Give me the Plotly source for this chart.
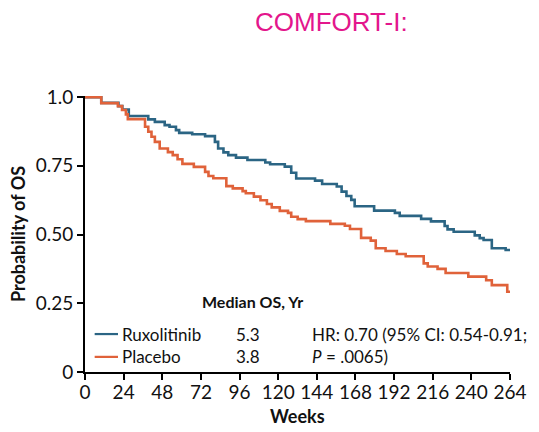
import plotly.graph_objects as go

# Kaplan-Meier step curves for overall survival (weeks vs probability)
rux_weeks = [0, 10.1, 20.8, 23.2, 27.2, 39.3, 43.4, 49.5, 52.5, 56.5, 58.5, 66.6, 74.6,
             80.7, 82.7, 86.0, 89.0, 93.8, 100.9, 112.0, 115.0, 124.1, 128.1, 131.2,
             142.9, 147.3, 156.4, 159.4, 162.4, 165.4, 167.5, 179.6, 192.5, 195.5,
             208.8, 214.9, 223.4, 225.2, 229.0, 242.1, 245.2, 247.6, 252.7, 261.3, 264]
rux_surv = [1.0, 0.979, 0.967, 0.955, 0.931, 0.919, 0.910, 0.898, 0.892, 0.880, 0.870,
            0.865, 0.858, 0.837, 0.813, 0.799, 0.789, 0.780, 0.771, 0.762, 0.756, 0.747,
            0.725, 0.704, 0.696, 0.684, 0.675, 0.656, 0.640, 0.626, 0.603, 0.587, 0.579,
            0.568, 0.557, 0.548, 0.531, 0.519, 0.510, 0.497, 0.487, 0.480, 0.450, 0.444,
            0.444]

pbo_weeks = [0, 10.1, 20.4, 23.0, 25.4, 26.6, 37.3, 39.3, 41.3, 43.4, 46.4, 51.5, 54.5,
             57.5, 60.5, 67.6, 74.6, 76.7, 79.7, 87.8, 91.8, 97.9, 99.9, 104.9, 109.0,
             113.0, 116.0, 121.0, 126.1, 128.1, 132.1, 137.2, 152.4, 161.4, 164.6, 171.5,
             177.5, 180.6, 186.7, 193.7, 199.2, 210.4, 212.9, 219.0, 224.0, 238.1, 249.2,
             252.7, 262.3, 264]
pbo_surv = [1.0, 0.978, 0.967, 0.953, 0.937, 0.920, 0.892, 0.874, 0.856, 0.837, 0.813,
            0.800, 0.789, 0.774, 0.757, 0.746, 0.728, 0.713, 0.705, 0.676, 0.668, 0.658,
            0.650, 0.638, 0.625, 0.611, 0.599, 0.586, 0.579, 0.565, 0.556, 0.549, 0.539,
            0.532, 0.520, 0.488, 0.478, 0.450, 0.440, 0.429, 0.421, 0.395, 0.384, 0.375,
            0.360, 0.347, 0.334, 0.316, 0.292, 0.292]

arm_names = ["Ruxolitinib", "Placebo"]
median_os = ["5.3", "3.8"]
x_ticks = list(range(0, 265, 24))
y_ticks = [0, 0.25, 0.5, 0.75, 1.0]
y_tick_text = ["0", "0.25", "0.50", "0.75", "1.0"]

BLUE = "#2b6584"
ORANGE = "#e0623a"
FONT = "Lato, Carlito, 'Liberation Sans', sans-serif"

fig = go.Figure()
fig.add_trace(go.Scatter(x=rux_weeks, y=rux_surv, mode="lines", line_shape="hv",
                         line=dict(color=BLUE, width=2.6), showlegend=False))
fig.add_trace(go.Scatter(x=pbo_weeks, y=pbo_surv, mode="lines", line_shape="hv",
                         line=dict(color=ORANGE, width=2.6), showlegend=False))

# in-plot key: short line samples with arm names and medians
key_rows = [0.138, 0.055]
for name, med, row, col in zip(arm_names, median_os, key_rows, [BLUE, ORANGE]):
    fig.add_shape(type="line", x0=6, x1=20.5, y0=row, y1=row, xref="x", yref="y",
                  line=dict(color=col, width=2.2))
    fig.add_annotation(x=21.8, y=row, text=name, showarrow=False, xanchor="left",
                       yanchor="middle", font=dict(size=17, color="#111", family=FONT))
    fig.add_annotation(x=92.5, y=row, text=med, showarrow=False, xanchor="left",
                       yanchor="middle", font=dict(size=17, color="#111", family=FONT))

fig.add_annotation(x=104, y=0.257, text="<b>Median OS, Yr</b>", showarrow=False,
                   xanchor="center", yanchor="middle",
                   font=dict(size=16, color="#111", family=FONT))
fig.add_annotation(x=139.5, y=0.138, text="HR: 0.70 (95% CI: 0.54-0.91;", showarrow=False,
                   xanchor="left", yanchor="middle",
                   font=dict(size=17, color="#111", family=FONT))
fig.add_annotation(x=139.5, y=0.055, text="<i>P</i> = .0065)", showarrow=False,
                   xanchor="left", yanchor="middle",
                   font=dict(size=17, color="#111", family=FONT))

fig.add_annotation(x=0.58, y=1, xref="paper", yref="paper", yshift=74,
                   text="COMFORT-I:", showarrow=False, xanchor="center", yanchor="middle",
                   font=dict(size=26, color="#e3168c", family="'Liberation Sans', Arial, sans-serif"))

# x-axis title placed under the tick labels
fig.add_annotation(x=0.5, y=0, xref="paper", yref="paper", yshift=-44,
                   text="<b>Weeks</b>", showarrow=False, xanchor="center", yanchor="middle",
                   font=dict(size=18, color="#111", family=FONT))

fig.update_xaxes(range=[0, 264], tickvals=x_ticks, ticks="outside", ticklen=6,
                 tickwidth=2, tickcolor="black", showline=True, linecolor="black",
                 linewidth=2, showgrid=False, zeroline=False, ticklabelstandoff=-4,
                 tickfont=dict(size=19, color="#111", family=FONT))
fig.update_yaxes(range=[0, 1.004], tickvals=y_ticks, ticktext=y_tick_text,
                 ticks="outside", ticklen=6, tickwidth=2, tickcolor="black",
                 showline=True, linecolor="black", linewidth=2, showgrid=False,
                 zeroline=False, tickfont=dict(size=19, color="#111", family=FONT),
                 title=dict(text="<b>Probability of OS</b>", standoff=5,
                            font=dict(size=18, color="#111", family=FONT)))

fig.update_layout(width=539, height=432, margin=dict(l=85, r=18, t=96, b=60),
                  plot_bgcolor="white", paper_bgcolor="white")

fig.write_html("out.html")
